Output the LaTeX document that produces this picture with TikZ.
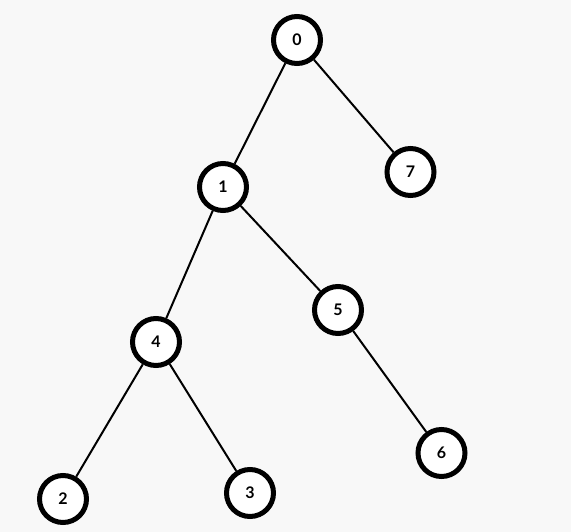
\documentclass[tikz,border=0pt]{standalone}
\usepackage{fontspec}
\setmainfont{Lato}
\definecolor{nen}{HTML}{F8F8F8}
\begin{document}
\begin{tikzpicture}[x=1pt, y=-1pt,
		dinh/.style={circle, draw=black, line width=5pt, fill=white, minimum size=47pt, inner sep=0pt, font=\bfseries\fontsize{16}{16}\selectfont},
		canh/.style={line width=2pt, black}]
	% Nền
	\fill[nen] (0,0) rectangle (571,532);
	\useasboundingbox (0,0) rectangle (571,532);
	% Các đỉnh của cây
	\node[dinh] (n0) at (297,40) {0};
	\node[dinh] (n7) at (410.5,172) {7};
	\node[dinh] (n1) at (223,187) {1};
	\node[dinh] (n5) at (338,310) {5};
	\node[dinh] (n4) at (156,342) {4};
	\node[dinh] (n6) at (441.5,453) {6};
	\node[dinh] (n2) at (63,499) {2};
	\node[dinh] (n3) at (250,493) {3};
	% Các cạnh
	\draw[canh] (n0) -- (n1);
	\draw[canh] (n0) -- (n7);
	\draw[canh] (n1) -- (n4);
	\draw[canh] (n1) -- (n5);
	\draw[canh] (n4) -- (n2);
	\draw[canh] (n4) -- (n3);
	\draw[canh] (n5) -- (n6);
\end{tikzpicture}
\end{document}
